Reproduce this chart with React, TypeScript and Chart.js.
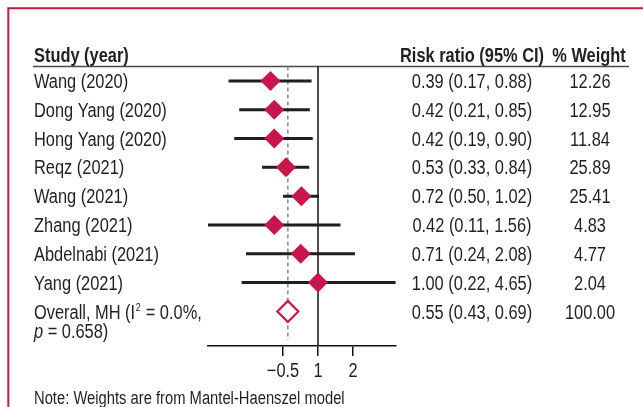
import React, { useEffect, useRef } from "react";
import { Chart, registerables } from "chart.js";

Chart.register(...registerables);

const studies = [
  "Wang (2020)",
  "Dong Yang (2020)",
  "Hong Yang (2020)",
  "Reqz (2021)",
  "Wang (2021)",
  "Zhang (2021)",
  "Abdelnabi (2021)",
  "Yang (2021)",
];
const riskRatio = [0.39, 0.42, 0.42, 0.53, 0.72, 0.42, 0.71, 1.0];
const ciLower = [0.17, 0.21, 0.19, 0.33, 0.5, 0.11, 0.24, 0.22];
const ciUpper = [0.88, 0.85, 0.9, 0.84, 1.02, 1.56, 2.08, 4.65];
const weights = ["12.26", "12.95", "11.84", "25.89", "25.41", "4.83", "4.77", "2.04"];

const overallRR = 0.55;
const overallLower = 0.43;
const overallUpper = 0.69;
const overallWeight = "100.00";

const xTicks = [0.5, 1, 2];
const xTickLabels = ["\u22120.5", "1", "2"];

const FONT = '"Liberation Sans", Arial, sans-serif';
const SX = 0.82; // horizontal condensing to mimic a narrow grotesque
const TEXT = "#231f20";
const CRIMSON = "#c8164a";
const FRAME = "#c8173f";

const fmt = (v: number) => v.toFixed(2);

function drawText(
  ctx: CanvasRenderingContext2D,
  text: string,
  x: number,
  y: number,
  align: "left" | "center" | "right",
  font: string
): number {
  ctx.save();
  ctx.font = font;
  ctx.textAlign = "left";
  ctx.textBaseline = "alphabetic";
  const w = ctx.measureText(text).width;
  ctx.scale(SX, 1);
  let x0 = x / SX;
  if (align === "center") x0 -= w / 2;
  if (align === "right") x0 -= w;
  ctx.fillText(text, x0, y);
  ctx.restore();
  return w * SX;
}

export default function App() {
  const ref = useRef<HTMLCanvasElement | null>(null);

  useEffect(() => {
    if (!ref.current) return;
    const n = studies.length;

    const ciDatasets = studies.map((_, i) => ({
      type: "line" as const,
      data: [
        { x: ciLower[i], y: i },
        { x: ciUpper[i], y: i },
      ],
      borderColor: "#1e1e1e",
      borderWidth: 3,
      pointRadius: 0,
      fill: false,
    }));

    const framePlugin = {
      id: "frameAndText",
      beforeDraw(chart: any) {
        const ctx = chart.ctx;
        ctx.save();
        ctx.fillStyle = "#ffffff";
        ctx.fillRect(0, 0, chart.width, chart.height);
        ctx.strokeStyle = FRAME;
        ctx.lineWidth = 2;
        ctx.beginPath();
        ctx.moveTo(8.3, chart.height + 5);
        ctx.lineTo(8.3, 8.2);
        ctx.lineTo(chart.width + 5, 8.2);
        ctx.stroke();
        ctx.restore();
      },
      beforeDatasetsDraw(chart: any) {
        const ctx = chart.ctx;
        const xs = chart.scales.x;
        const area = chart.chartArea;
        ctx.save();
        ctx.strokeStyle = "#4a4a4a";
        ctx.lineWidth = 1.5;
        ctx.beginPath();
        ctx.moveTo(33, area.top);
        ctx.lineTo(629, area.top);
        ctx.stroke();
        const x1 = xs.getPixelForValue(1);
        ctx.strokeStyle = "#111111";
        ctx.lineWidth = 1.5;
        ctx.beginPath();
        ctx.moveTo(x1, area.top);
        ctx.lineTo(x1, area.bottom);
        ctx.stroke();
        const xo = xs.getPixelForValue(overallRR);
        ctx.strokeStyle = "#8a8a8a";
        ctx.setLineDash([4, 3]);
        ctx.beginPath();
        ctx.moveTo(xo, area.top);
        ctx.lineTo(xo, area.bottom - 6);
        ctx.stroke();
        ctx.restore();
      },
      afterDraw(chart: any) {
        const ctx = chart.ctx;
        const ys = chart.scales.y;
        const xs = chart.scales.x;
        const area = chart.chartArea;
        ctx.save();
        ctx.fillStyle = TEXT;
        const reg = `20px ${FONT}`;
        const bold = `bold 20px ${FONT}`;

        drawText(ctx, "Study (year)", 34, 62, "left", bold);
        drawText(ctx, "Risk ratio (95% CI)", 472, 62, "center", bold);
        drawText(ctx, "% Weight", 589, 62, "center", bold);

        for (let i = 0; i < n; i++) {
          const y = ys.getPixelForValue(i) + 7;
          drawText(ctx, studies[i], 34, y, "left", reg);
          drawText(ctx, `${fmt(riskRatio[i])} (${fmt(ciLower[i])}, ${fmt(ciUpper[i])})`, 472, y, "center", reg);
          drawText(ctx, weights[i], 590, y, "center", reg);
        }

        const yo = ys.getPixelForValue(n) + 7.5;
        let x = 34;
        x += drawText(ctx, "Overall, MH (I", x, yo, "left", reg) + 0.5;
        x += drawText(ctx, "2", x, yo - 8, "left", `11px ${FONT}`) + 0.5;
        drawText(ctx, " = 0.0%,", x, yo, "left", reg);
        const yo2 = yo + 19.5;
        const pw = drawText(ctx, "p", 34, yo2, "left", `italic 20px ${FONT}`);
        drawText(ctx, " = 0.658)", 34 + pw, yo2, "left", reg);
        drawText(ctx, `${fmt(overallRR)} (${fmt(overallLower)}, ${fmt(overallUpper)})`, 472, yo, "center", reg);
        drawText(ctx, overallWeight, 590, yo, "center", reg);

        // x tick labels, placed by the log scale
        xs.ticks.forEach((t: any) => {
          const idx = xTicks.indexOf(Number(t.value));
          if (idx < 0) return;
          drawText(ctx, xTickLabels[idx], xs.getPixelForValue(t.value), area.bottom + 31, "center", reg);
        });

        drawText(ctx, "Note: Weights are from Mantel-Haenszel model", 34, 404, "left", `18px ${FONT}`);
        ctx.restore();
      },
    };

    const chart = new Chart(ref.current, {
      type: "scatter",
      data: {
        datasets: [
          {
            type: "scatter" as const,
            data: [{ x: overallRR, y: n }],
            pointStyle: "rectRot",
            pointRadius: 10.5,
            backgroundColor: "#ffffff",
            borderColor: CRIMSON,
            borderWidth: 2.2,
          },
          {
            type: "scatter" as const,
            data: riskRatio.map((v, i) => ({ x: v, y: i })),
            pointStyle: "rectRot",
            pointRadius: 10,
            backgroundColor: CRIMSON,
            borderColor: CRIMSON,
            borderWidth: 0,
          },
          ...ciDatasets,
        ] as any,
      },
      options: {
        animation: false,
        responsive: false,
        events: [],
        layout: { padding: { left: 208, right: 247, top: 66.5, bottom: 21 } },
        plugins: { legend: { display: false }, tooltip: { enabled: false } },
        scales: {
          x: {
            type: "logarithmic",
            min: 0.113,
            max: 4.69,
            position: "bottom",
            afterBuildTicks: (s: any) => {
              s.ticks = xTicks.map((v) => ({ value: v }));
            },
            afterFit: (s: any) => {
              s.height = 40;
            },
            ticks: {
              display: false,
              autoSkip: false,
              maxRotation: 0,
            },
            grid: {
              drawOnChartArea: false,
              drawTicks: true,
              tickLength: 10,
              color: "#111111",
              lineWidth: 1.5,
            },
            border: { display: true, color: "#111111", width: 1.5 },
          },
          y: {
            type: "linear",
            display: false,
            min: -0.5,
            max: 9.2,
            reverse: true,
          },
        },
      } as any,
      plugins: [framePlugin],
    });

    return () => chart.destroy();
  }, []);

  return (
    <div style={{ position: "fixed", left: 0, top: 0, width: 643, height: 407 }}>
      <canvas ref={ref} width={643} height={407} style={{ display: "block", width: 643, height: 407 }} />
    </div>
  );
}
